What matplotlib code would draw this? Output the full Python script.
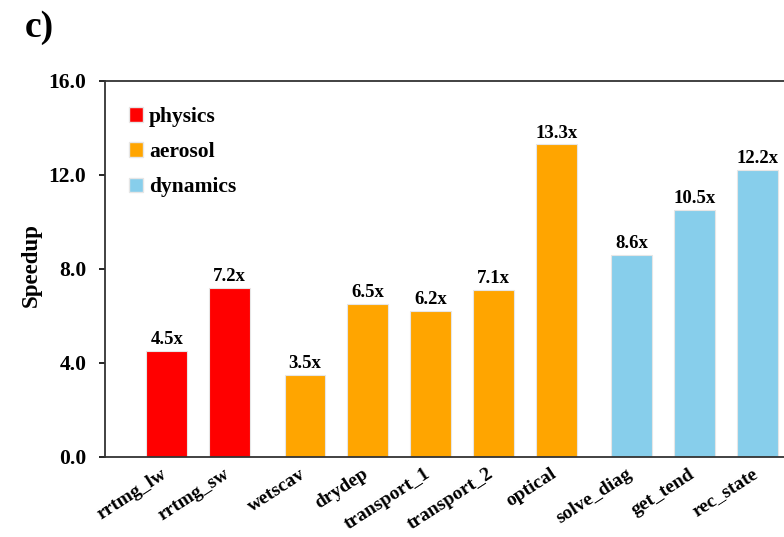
import matplotlib
matplotlib.use("Agg")
import matplotlib.pyplot as plt
import matplotlib.transforms as mtransforms
from matplotlib.patches import Patch
from matplotlib.ticker import FormatStrFormatter

plt.rcParams['font.family'] = ['Liberation Serif', 'DejaVu Serif']
plt.rcParams['font.weight'] = 'bold'

# kernels, speedups and group of each kernel
kernels = ["rrtmg_lw", "rrtmg_sw", "wetscav", "drydep", "transport_1",
           "transport_2", "optical", "solve_diag", "get_tend", "rec_state"]
speedups = [4.5, 7.2, 3.5, 6.5, 6.2, 7.1, 13.3, 8.6, 10.5, 12.2]
groups = ["physics", "physics", "aerosol", "aerosol", "aerosol",
          "aerosol", "aerosol", "dynamics", "dynamics", "dynamics"]
group_names = ["physics", "aerosol", "dynamics"]
group_colors = {"physics": "#FF0000", "aerosol": "#FFA500", "dynamics": "#87CEEB"}
y_ticks = [0.0, 4.0, 8.0, 12.0, 16.0]

# bar positions: unit spacing inside a group, wider gap between groups
positions = []
x = 0.0
prev = None
for g in groups:
    if prev is not None:
        x += 1.0 if g == prev else 1.2
    positions.append(x)
    prev = g

fig = plt.figure(figsize=(7.84, 5.37), dpi=100)
W, H = 784, 537
left_px, bottom_px, top_px = 105, 457, 81
right_px = 830
unit_px = 62.8
ax = fig.add_axes([left_px / W, 1 - bottom_px / H,
                   (right_px - left_px) / W, (bottom_px - top_px) / H])

colors = [group_colors[g] for g in groups]
ax.bar(positions, speedups, width=0.65, color=colors,
       edgecolor="#e6e6e6", linewidth=0.8)

for xpos, v in zip(positions, speedups):
    ax.text(xpos, v + 0.12, f"{v:.1f}x", ha="center", va="bottom",
            fontsize=13.5, fontweight="bold")

ax.set_xlim(-0.985, -0.985 + (right_px - left_px) / unit_px)
ax.set_ylim(0, 16)
ax.set_yticks(y_ticks)
ax.yaxis.set_major_formatter(FormatStrFormatter("%.1f"))
ax.tick_params(axis="y", direction="out", length=4.5, width=1.2,
               labelsize=15.5, pad=9)
ax.set_xticks(positions)
ax.set_xticklabels(kernels, rotation=33, ha="right", rotation_mode="anchor",
                   fontsize=14, fontweight="bold")
ax.tick_params(axis="x", length=0, pad=6)
shift = mtransforms.ScaledTranslation(-6 / 100, 0, fig.dpi_scale_trans)
for lbl in ax.get_xticklabels():
    lbl.set_transform(lbl.get_transform() + shift)
for s in ax.spines.values():
    s.set_linewidth(1.3)
    s.set_color("#333333")

ax.set_ylabel("Speedup", fontsize=16.5, fontweight="bold")
ax.yaxis.set_label_coords(-0.087, 0.51)

handles = [Patch(facecolor=group_colors[g], edgecolor="#e6e6e6", label=g)
           for g in group_names]
ax.legend(handles=handles, loc="upper left", bbox_to_anchor=(0.007, 0.982),
          frameon=False, fontsize=15.5, handlelength=0.65, handleheight=0.65,
          handletextpad=0.25, labelspacing=0.7, borderaxespad=0.6,
          borderpad=0.3)

fig.text(25 / W, 1 - 37 / H, "c)", fontsize=27, fontweight="bold",
         ha="left", va="baseline")

fig.savefig("out.png", dpi=100)
